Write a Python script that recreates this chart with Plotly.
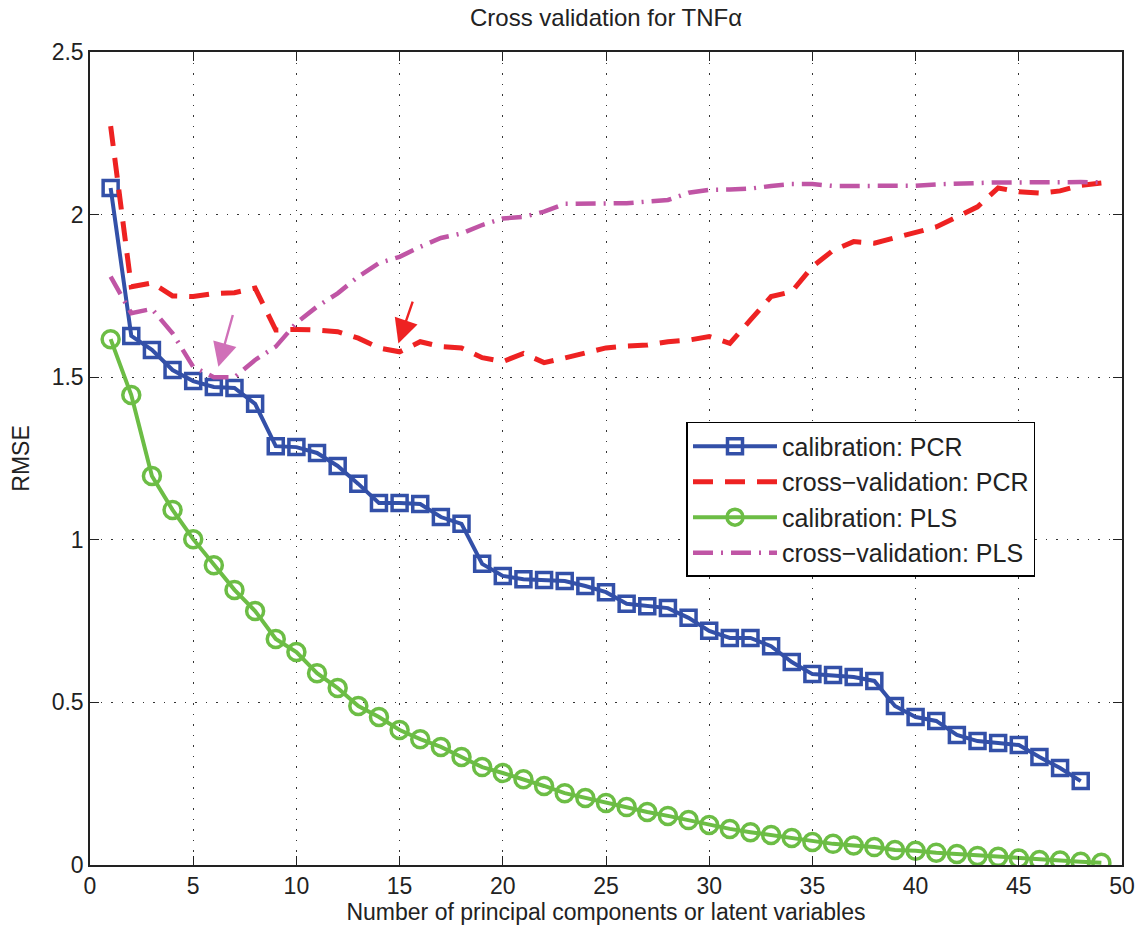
import plotly.graph_objects as go

x_pcr = list(range(1, 49))
cal_pcr = [2.082, 1.627, 1.584, 1.522, 1.488, 1.470, 1.467, 1.418, 1.288, 1.285,
           1.267, 1.227, 1.172, 1.113, 1.113, 1.110, 1.070, 1.049, 0.926, 0.889,
           0.879, 0.876, 0.873, 0.858, 0.839, 0.803, 0.796, 0.790, 0.760, 0.720,
           0.698, 0.698, 0.673, 0.624, 0.587, 0.584, 0.578, 0.566, 0.489, 0.455,
           0.443, 0.400, 0.381, 0.375, 0.369, 0.332, 0.298, 0.258]

x_all = list(range(1, 50))
cv_pcr = [2.272, 1.778, 1.790, 1.750, 1.748, 1.757, 1.760, 1.774, 1.645, 1.647,
          1.645, 1.640, 1.620, 1.590, 1.578, 1.609, 1.594, 1.590, 1.560, 1.548,
          1.573, 1.545, 1.559, 1.575, 1.590, 1.596, 1.599, 1.609, 1.614, 1.625,
          1.604, 1.676, 1.748, 1.763, 1.840, 1.890, 1.917, 1.912, 1.928, 1.943,
          1.962, 1.993, 2.024, 2.082, 2.070, 2.066, 2.073, 2.090, 2.097]

cal_pls = [1.617, 1.445, 1.196, 1.092, 1.002, 0.922, 0.846, 0.781, 0.695, 0.655,
           0.590, 0.544, 0.489, 0.455, 0.415, 0.387, 0.363, 0.332, 0.301, 0.283,
           0.264, 0.243, 0.221, 0.206, 0.191, 0.178, 0.163, 0.151, 0.138, 0.123,
           0.111, 0.101, 0.092, 0.083, 0.071, 0.065, 0.060, 0.055, 0.046, 0.044,
           0.038, 0.034, 0.028, 0.025, 0.020, 0.015, 0.014, 0.010, 0.007]

cv_pls = [1.809, 1.697, 1.710, 1.635, 1.532, 1.500, 1.500, 1.553, 1.594, 1.667,
          1.717, 1.758, 1.809, 1.851, 1.870, 1.901, 1.928, 1.942, 1.968, 1.988,
          1.993, 2.009, 2.033, 2.033, 2.035, 2.035, 2.040, 2.045, 2.067, 2.076,
          2.077, 2.080, 2.088, 2.094, 2.094, 2.088, 2.088, 2.088, 2.089, 2.089,
          2.093, 2.096, 2.097, 2.099, 2.099, 2.100, 2.100, 2.100, 2.099]

x_ticks = [0, 5, 10, 15, 20, 25, 30, 35, 40, 45, 50]
y_ticks = [0, 0.5, 1, 1.5, 2, 2.5]
y_ticktext = ["0", "0.5", "1", "1.5", "2", "2.5"]

# arrows: (tip_x, tip_y, tail_x, tail_y, color)
arrows = [(6.22, 1.532, 6.94, 1.696, "#D070B8"),
          (14.94, 1.604, 15.66, 1.737, "#EE2222")]

BLUE = "#3350A8"
RED = "#EE2222"
GREEN = "#6CBD45"
PURPLE = "#C055A5"

fig = go.Figure()
fig.add_trace(go.Scatter(x=x_pcr, y=cal_pcr, mode="lines+markers", name="calibration: PCR",
                         line=dict(color=BLUE, width=4),
                         marker=dict(symbol="square-open", size=15, color=BLUE,
                                     line=dict(color=BLUE, width=3.5))))
fig.add_trace(go.Scatter(x=x_all, y=cv_pcr, mode="lines", name="cross\u2212validation: PCR",
                         line=dict(color=RED, width=5, dash="20px,12px")))
fig.add_trace(go.Scatter(x=x_all, y=cal_pls, mode="lines+markers", name="calibration: PLS",
                         line=dict(color=GREEN, width=4),
                         marker=dict(symbol="circle-open", size=17, color=GREEN,
                                     line=dict(color=GREEN, width=3.5))))
fig.add_trace(go.Scatter(x=x_all, y=cv_pls, mode="lines", name="cross\u2212validation: PLS",
                         line=dict(color=PURPLE, width=4.5, dash="20px,8px,2px,8px")))

for tx, ty, ax_, ay_, col in arrows:
    fig.add_annotation(x=tx, y=ty, ax=ax_, ay=ay_, xref="x", yref="y", axref="x", ayref="y",
                       showarrow=True, arrowhead=2, arrowsize=2.0, arrowwidth=2.4,
                       arrowcolor=col, text="")

FONT = "Liberation Sans, Arial, sans-serif"
fig.update_layout(
    width=1136, height=932,
    margin=dict(l=90, r=14, t=52, b=67),
    paper_bgcolor="white", plot_bgcolor="white",
    font=dict(family=FONT, size=23, color="#222222"),
    title=dict(text="Cross validation for TNF\u03b1", x=0.5335, xanchor="center",
               y=0.981, yanchor="middle", font=dict(size=24)),
    showlegend=True,
    legend=dict(x=0.578, y=0.545, xanchor="left", yanchor="top",
                bordercolor="black", borderwidth=1.5, bgcolor="white",
                font=dict(size=25), tracegroupgap=2, itemwidth=84),
)
GRID_DASH = "1.5px,9px"
fig.update_xaxes(range=[0, 50], tickvals=x_ticks, ticklabeloverflow="allow",
                 showline=True, linecolor="#222222", linewidth=1.5, mirror="ticks",
                 ticks="inside", ticklen=9, tickcolor="#222222",
                 showgrid=True, gridcolor="#333333", griddash=GRID_DASH, gridwidth=1.2,
                 zeroline=False, automargin=False,
                 title=dict(text="Number of principal components or latent variables",
                            standoff=4, font=dict(size=23)))
fig.update_yaxes(range=[0, 2.5], tickvals=y_ticks, ticktext=y_ticktext,
                 ticklabeloverflow="allow",
                 showline=True, linecolor="#222222", linewidth=1.5, mirror="ticks",
                 ticks="inside", ticklen=9, tickcolor="#222222",
                 showgrid=True, gridcolor="#333333", griddash=GRID_DASH, gridwidth=1.2,
                 zeroline=False, automargin=False,
                 title=dict(text="RMSE", standoff=16, font=dict(size=23)))

fig.write_html("out.html", config={"displayModeBar": False},
               post_script="document.body.style.margin='0';document.body.style.overflow='hidden';")
